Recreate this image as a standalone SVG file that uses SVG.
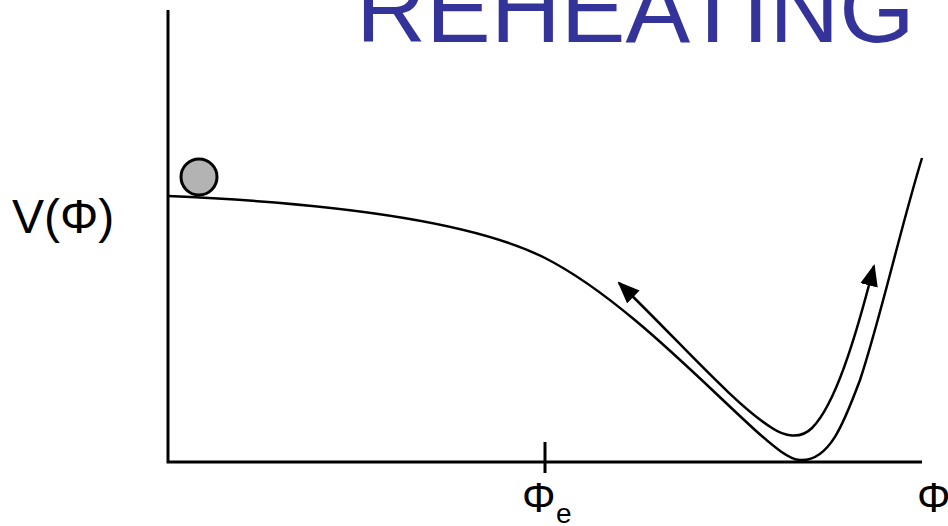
<svg xmlns="http://www.w3.org/2000/svg" width="948" height="526" viewBox="0 0 948 526">
<style>
.t{font-family:"Liberation Sans",Arial,sans-serif;fill:#000}
.ax{stroke:#000;stroke-width:3;fill:none}
.cv{stroke:#000;stroke-width:2.5;fill:none}
</style>
<defs>
<marker id="ah" markerUnits="userSpaceOnUse" markerWidth="22" markerHeight="18" viewBox="0 0 22 18" refX="20" refY="9" orient="auto-start-reverse">
<path d="M0,0 L22,9 L0,18 Z" fill="#000"/>
</marker>
</defs>
<rect width="948" height="526" fill="#fff"/>
<text x="356" y="42" font-family="Liberation Sans,Arial,sans-serif" font-size="97" fill="#333399">REHEATING</text>
<g id="axes">
<path class="ax" d="M168,10 V462 H922"/>
<path class="ax" d="M545,442 V473"/>
</g>
<g id="labels">
<text class="t" x="12" y="233" font-size="48">V(Φ)</text>
<text class="t" x="522" y="512" font-size="42">Φ</text>
<text class="t" x="556" y="523" font-size="28">e</text>
<text class="t" x="917" y="512" font-size="42">Φ</text>
</g>
<g id="potential">
<path class="cv" d="M168,196 C330,203 470,220 545,258 C620,296 700,380 755,430 C775,448 790,460 800,460 C830,462 845,420 860,380 C880,320 900,230 922,158"/>
</g>
<g id="ball">
<circle cx="199" cy="177" r="18" fill="#b3b3b3" stroke="#000" stroke-width="3"/>
</g>
<g id="connectors">
<path class="cv" d="M619,283 C680,342 735,405 772,428 C784,436 800,440 812,428 C835,405 855,340 874,266" marker-start="url(#ah)" marker-end="url(#ah)"/>
</g>
</svg>
